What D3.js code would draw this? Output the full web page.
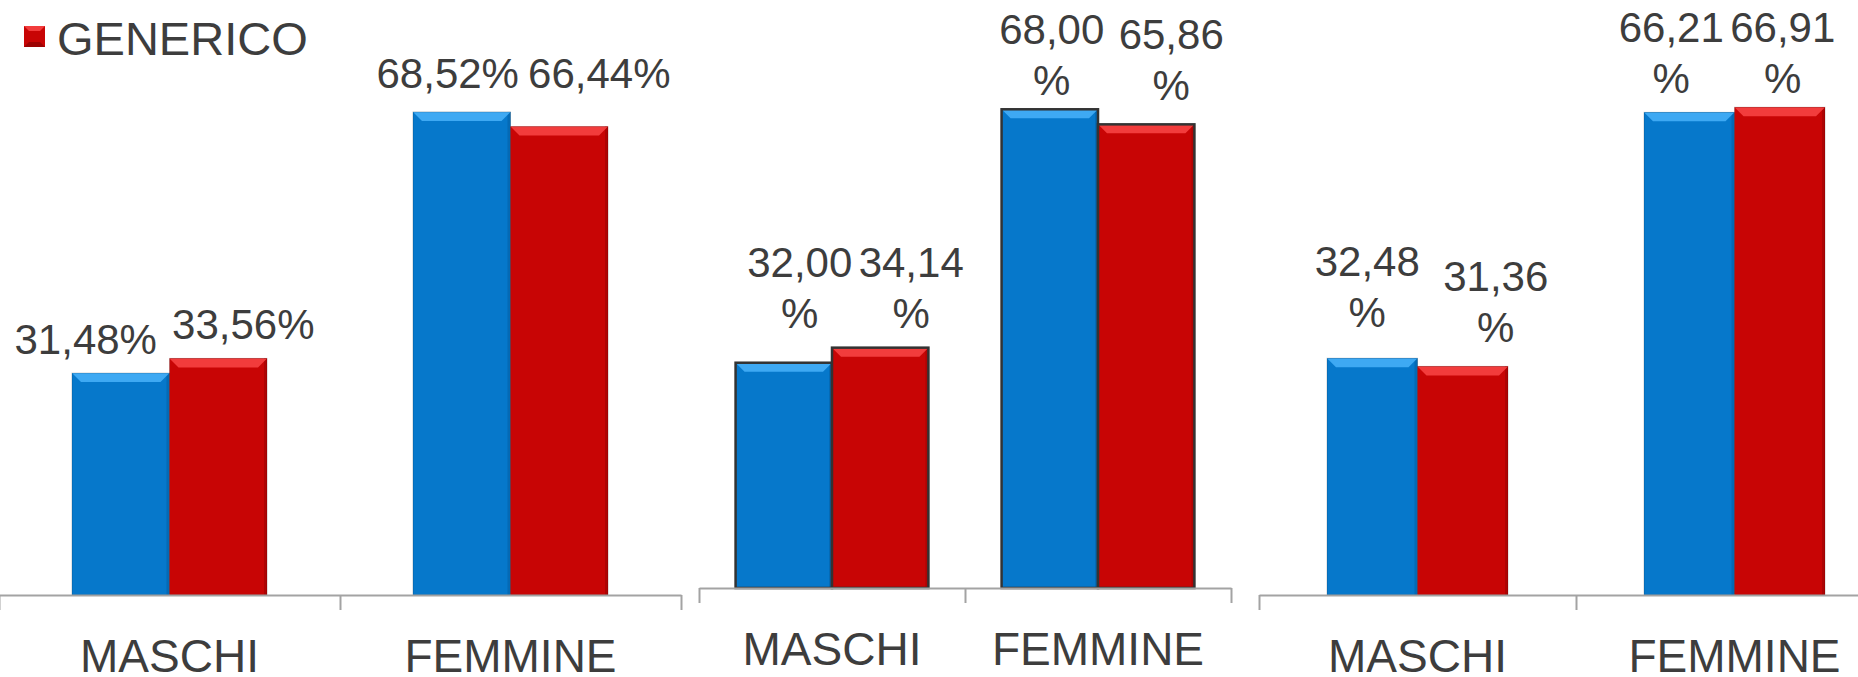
<!DOCTYPE html>
<html>
<head>
<meta charset="utf-8">
<script src="https://cdn.jsdelivr.net/npm/d3@7"></script>
<style>
  html, body { margin: 0; padding: 0; background: #fff; overflow: hidden; }
  svg { display: block; font-family: "Liberation Sans", Arial, sans-serif; }
</style>
</head>
<body>
<svg id="drawing_region"></svg>
<script>
// chart data
const categories = ['MASCHI', 'FEMMINE'];
const seriesKeys = ['serie1', 'GENERICO'];
const legendLabels = ['GENERICO'];
// [category][series] in percent
const valuesPanel1 = [[31.48, 33.56], [68.52, 66.44]];
const valuesPanel2 = [[32.00, 34.14], [68.00, 65.86]];
const valuesPanel3 = [[32.48, 31.36], [66.21, 66.91]];

const seriesColors = {
    serie1:   {base: '#0678CB', light: '#3EA9F3', dark: '#0460A6'},
    GENERICO: {base: '#C80505', light: '#F23C3C', dark: '#9C0303'}
};
const textColor = '#3d3d3d';
const itFormat = d3.formatLocale({decimal: ',', thousands: '.', grouping: [3], currency: ['€', '']}).format('.2f');

class GroupedBarPanel {
    constructor (config, data) {
        this.config = {
            parent: config.parent,
            x0: config.x0,
            x1: config.x1,
            baseline: config.baseline,
            pxPerPct: config.pxPerPct,
            groupFrac: config.groupFrac || 0.6,
            outline: config.outline || false,
            wrap: config.wrap || false,
            nudges: config.nudges,
            lineGap: config.lineGap || 51,
            bevel: config.bevel || 9
        };
        this.data = data;
        this.init();
    }

    init() {
        let self = this;
        self.chart = d3.select(self.config.parent).append('g');

        self.xscale = d3.scaleBand()
            .domain(categories)
            .range([self.config.x0, self.config.x1]);

        const pad = (1 - self.config.groupFrac) / 2;
        self.sscale = d3.scaleBand()
            .domain(seriesKeys)
            .range([self.xscale.bandwidth() * pad, self.xscale.bandwidth() * (1 - pad)]);

        self.yscale = d3.scaleLinear()
            .domain([0, 100])
            .range([self.config.baseline, self.config.baseline - 100 * self.config.pxPerPct]);

        // ticks sit between categories
        self.edgeScale = d3.scaleLinear()
            .domain([0, categories.length])
            .range([self.config.x0, self.config.x1]);
    }

    update() {
        let self = this;
        self.rows = categories.flatMap((c, i) => seriesKeys.map((k, j) => ({
            cat: c, key: k, value: self.data[i][j], nudge: self.config.nudges[i][j]
        })));
        self.render();
    }

    render() {
        let self = this;
        const b = self.config.bevel;
        const bw = self.sscale.bandwidth();

        const bars = self.chart.selectAll('g.bar').data(self.rows)
            .join('g')
            .attr('class', 'bar')
            .attr('transform', d => `translate(${self.xscale(d.cat) + self.sscale(d.key)}, 0)`);

        bars.append('rect')
            .attr('x', 0)
            .attr('y', d => self.yscale(d.value))
            .attr('width', bw)
            .attr('height', d => self.yscale(0) - self.yscale(d.value))
            .attr('fill', d => seriesColors[d.key].base);

        // side shading
        bars.append('rect')
            .attr('x', bw - 3)
            .attr('y', d => self.yscale(d.value))
            .attr('width', 3)
            .attr('height', d => self.yscale(0) - self.yscale(d.value))
            .attr('fill', d => seriesColors[d.key].dark)
            .attr('opacity', 0.6);

        // top bevel
        bars.append('path')
            .attr('d', d => {
                const y = self.yscale(d.value);
                return `M0,${y}L${bw},${y}L${bw - b},${y + b}L${b},${y + b}Z`;
            })
            .attr('fill', d => seriesColors[d.key].light);

        bars.append('rect')
            .attr('x', 0)
            .attr('y', d => self.yscale(d.value))
            .attr('width', bw)
            .attr('height', d => self.yscale(0) - self.yscale(d.value))
            .attr('fill', 'none')
            .attr('stroke', self.config.outline ? '#333' : 'rgba(0,0,0,0.18)')
            .attr('stroke-width', self.config.outline ? 2.5 : 1);

        // axis with boundary ticks
        const axis = d3.axisBottom(self.edgeScale)
            .tickValues(d3.range(categories.length + 1))
            .tickSize(15)
            .tickSizeOuter(0)
            .tickFormat('');
        const ag = self.chart.append('g')
            .attr('transform', `translate(0, ${self.config.baseline})`)
            .call(axis);
        ag.selectAll('path, line').attr('stroke', '#a3a3a3').attr('stroke-width', 2);

        // category labels
        const lab = d3.axisBottom(self.xscale).tickSize(0);
        const lg = self.chart.append('g')
            .attr('transform', `translate(0, ${self.config.baseline})`)
            .call(lab);
        lg.select('.domain').remove();
        lg.selectAll('text')
            .attr('y', 77)
            .attr('dy', null)
            .attr('fill', textColor)
            .style('font-size', '46px')
            .style('font-family', '"Liberation Sans", Arial, sans-serif');

        // value labels
        const vl = self.chart.selectAll('text.value').data(self.rows)
            .join('text')
            .attr('class', 'value')
            .attr('text-anchor', 'middle')
            .attr('fill', textColor)
            .style('font-size', '42px');

        vl.each(function (d) {
            const t = d3.select(this);
            const cx = self.xscale(d.cat) + self.sscale(d.key) + bw / 2 + d.nudge[0];
            const yLast = self.yscale(d.value) - d.nudge[1];
            if (self.config.wrap) {
                t.append('tspan').attr('x', cx).attr('y', yLast - self.config.lineGap).text(itFormat(d.value));
                t.append('tspan').attr('x', cx).attr('y', yLast).text('%');
            } else {
                t.append('tspan').attr('x', cx).attr('y', yLast).text(itFormat(d.value) + '%');
            }
        });
    }
}

const svg = d3.select('#drawing_region')
    .attr('width', 1858)
    .attr('height', 677);

// legend (only the red series entry is visible)
const legend = svg.append('g').attr('transform', 'translate(24, 26)');
legend.append('rect').attr('width', 21).attr('height', 21).attr('fill', seriesColors.GENERICO.base);
legend.append('path').attr('d', 'M0,0L21,0L16,5L5,5Z').attr('fill', seriesColors.GENERICO.light);
legend.append('path').attr('d', 'M0,21L21,21L16,16L5,16Z').attr('fill', seriesColors.GENERICO.dark);
legend.append('text')
    .attr('x', 33)
    .attr('y', 29)
    .attr('fill', textColor)
    .style('font-size', '47px')
    .text(legendLabels[0]);

const panel1 = new GroupedBarPanel({
    parent: '#drawing_region', x0: -1, x1: 681, baseline: 595, pxPerPct: 7.05, groupFrac: 0.572,
    nudges: [[[-35, 19], [25, 19]], [[-14, 24], [40, 39]]]
}, valuesPanel1);
panel1.update();

const panel2 = new GroupedBarPanel({
    parent: '#drawing_region', x0: 699, x1: 1231, baseline: 588, pxPerPct: 7.04, groupFrac: 0.725,
    outline: true, wrap: true,
    nudges: [[[16, 35], [31, 20]], [[2, 14], [25, 24]]]
}, valuesPanel2);
panel2.update();

const panel3 = new GroupedBarPanel({
    parent: '#drawing_region', x0: 1259, x1: 1893, baseline: 595, pxPerPct: 7.29, groupFrac: 0.571,
    wrap: true,
    nudges: [[[-5, 31], [33, 24]], [[-18, 19], [3, 14]]]
}, valuesPanel3);
panel3.update();
</script>
</body>
</html>
